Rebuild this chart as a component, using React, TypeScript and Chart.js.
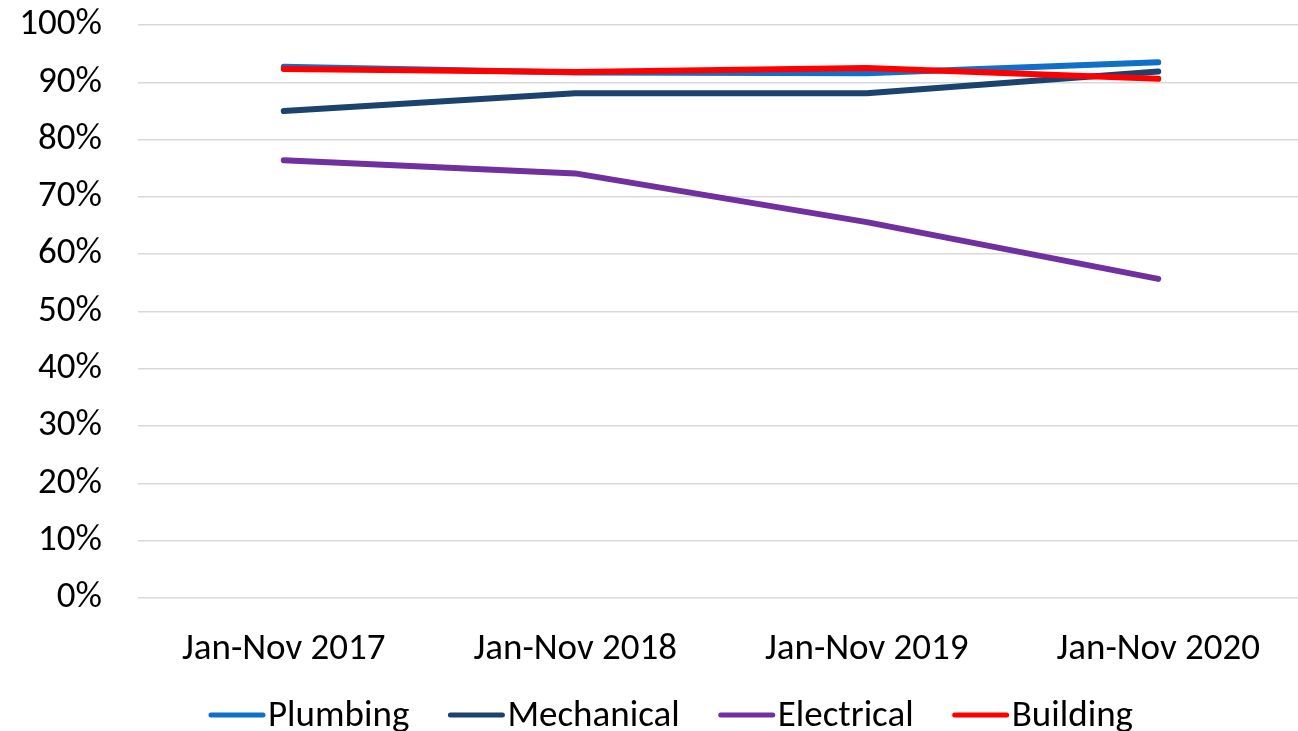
import React, { useEffect, useRef } from "react";
import { Chart, registerables } from "chart.js";

Chart.register(...registerables);

const categories = ["Jan-Nov 2017", "Jan-Nov 2018", "Jan-Nov 2019", "Jan-Nov 2020"];
const seriesNames = ["Plumbing", "Mechanical", "Electrical", "Building"];
const plumbing = [0.927, 0.917, 0.916, 0.935];
const mechanical = [0.85, 0.881, 0.881, 0.919];
const electrical = [0.764, 0.741, 0.656, 0.557];
const building = [0.923, 0.918, 0.925, 0.906];
const seriesColors = ["#1070C8", "#1C426E", "#7030A0", "#FF0000"];
const yTicks = [0, 0.1, 0.2, 0.3, 0.4, 0.5, 0.6, 0.7, 0.8, 0.9, 1.0];

const FONT = 'Carlito, Calibri, "Liberation Sans Narrow", "Open Sans", sans-serif';
const FONT_SIZE = 37;

const legendPlugin = {
  id: "customLegend",
  afterDraw(chart: any) {
    const ctx = chart.ctx;
    ctx.save();
    ctx.font = `${FONT_SIZE}px ${FONT}`;
    const lineLen = 56;
    const gapText = 3;
    const gapItem = 39;
    const widths = seriesNames.map((n) => ctx.measureText(n).width);
    const total =
      widths.reduce((a, b) => a + b, 0) + seriesNames.length * (lineLen + gapText) + (seriesNames.length - 1) * gapItem;
    let x = 671 - total / 2;
    const y = 715;
    seriesNames.forEach((name, i) => {
      ctx.strokeStyle = seriesColors[i];
      ctx.lineWidth = 5;
      ctx.lineCap = "round";
      ctx.beginPath();
      ctx.moveTo(x + 2, y);
      ctx.lineTo(x + lineLen - 2, y);
      ctx.stroke();
      ctx.fillStyle = "#000000";
      ctx.textBaseline = "alphabetic";
      ctx.textAlign = "left";
      ctx.fillText(name, x + lineLen + gapText, 726);
      x += lineLen + gapText + widths[i] + gapItem;
    });
    ctx.restore();
  },
};

export default function App() {
  const ref = useRef<HTMLCanvasElement | null>(null);
  useEffect(() => {
    document.body.style.margin = "0";
    const seriesData = [plumbing, mechanical, electrical, building];
    const chart = new Chart(ref.current as HTMLCanvasElement, {
      type: "line",
      data: {
        labels: categories,
        datasets: seriesNames.map((name, i) => ({
          label: name,
          data: seriesData[i],
          borderColor: seriesColors[i],
          backgroundColor: seriesColors[i],
          borderWidth: 6,
          borderCapStyle: "round" as const,
          borderJoinStyle: "round" as const,
          pointRadius: 0,
          tension: 0,
          order: 3 - i,
        })),
      },
      options: {
        responsive: false,
        animation: false,
        layout: { padding: { top: 25, left: 0, right: 0, bottom: 0 } },
        plugins: { legend: { display: false }, tooltip: { enabled: false } },
        scales: {
          x: {
            offset: true,
            grid: { display: false },
            border: { display: false },
            ticks: {
              color: "#000000",
              font: { family: FONT, size: FONT_SIZE },
              padding: 22,
              maxRotation: 0,
              autoSkip: false,
            },
            afterFit: (s: any) => {
              s.height = 133;
              s.paddingLeft = 0;
              s.paddingRight = 0;
            },
          },
          y: {
            min: 0,
            max: 1,
            afterBuildTicks: (s: any) => {
              s.ticks = yTicks.map((v) => ({ value: v }));
            },
            grid: { color: "#D9D9D9", lineWidth: 1.5, drawTicks: false },
            border: { display: false },
            ticks: {
              color: "#000000",
              font: { family: FONT, size: FONT_SIZE },
              padding: 36,
              callback: (v: any) => `${Math.round(Number(v) * 100)}%`,
            },
            afterFit: (s: any) => {
              s.width = 138;
              s.paddingTop = 0;
              s.paddingBottom = 0;
            },
          },
        },
      },
      plugins: [legendPlugin],
    });
    return () => chart.destroy();
  }, []);
  return (
    <div style={{ position: "fixed", left: 0, top: 0, width: 1298, height: 731, overflow: "hidden", background: "#fff" }}>
      <canvas ref={ref} width={1304} height={731} style={{ display: "block", width: 1304, height: 731 }} />
    </div>
  );
}
